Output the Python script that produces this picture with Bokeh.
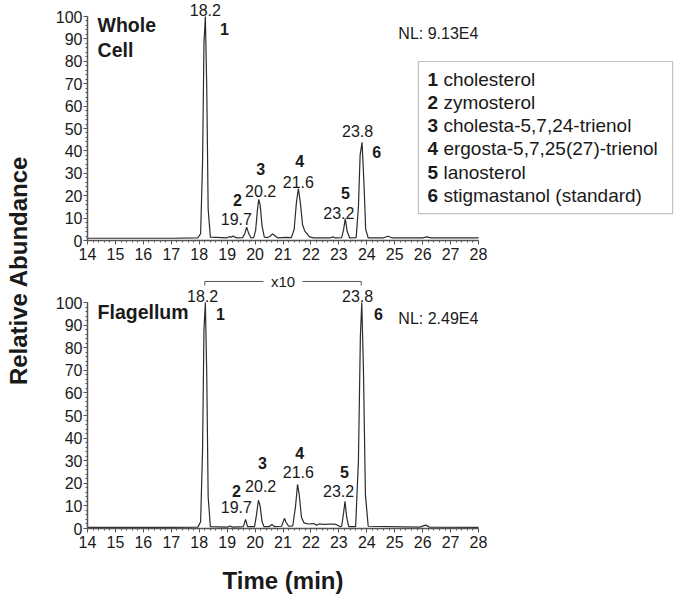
import math
from bokeh.plotting import figure
from bokeh.models import Range1d, FixedTicker, BoxAnnotation, LinearAxis, Label
from bokeh.embed import file_html
from bokeh.resources import INLINE
from bokeh.core.properties import value

# ---------------- data ----------------
# Whole cell chromatogram: retention time (min) / relative abundance (%)
WC_TIME = [14.0, 17.0, 17.95, 18.05, 18.12, 18.17, 18.22, 18.27, 18.32, 18.4, 19.0,
           19.1, 19.15, 19.22, 19.28, 19.35, 19.55, 19.63, 19.7, 19.77, 19.85,
           19.95, 20.02, 20.08, 20.13, 20.18, 20.25, 20.33, 20.45, 20.55, 20.62,
           20.7, 20.8, 21.1, 21.3, 21.4, 21.48, 21.55, 21.62, 21.7, 21.78, 21.85,
           21.95, 22.1, 22.7, 22.78, 22.85, 23.1, 23.17, 23.23, 23.3, 23.38, 23.62,
           23.7, 23.76, 23.83, 23.9, 23.96, 24.05, 24.6, 24.75, 24.9, 26.0, 26.15,
           26.3, 28.0]
WC_ABUND = [1.0, 1.0, 1.2, 3.0, 35.0, 88.0, 100.0, 68.0, 14.0, 1.5, 1.2,
            1.8, 1.4, 2.0, 1.5, 1.2, 1.3, 3.0, 6.0, 3.2, 1.2,
            1.3, 4.5, 13.0, 18.3, 16.0, 6.5, 1.5, 1.3, 2.0, 3.0,
            2.2, 1.2, 1.4, 1.3, 5.0, 17.0, 23.2, 17.0, 7.0, 4.2, 3.2,
            1.6, 1.2, 1.2, 1.6, 1.2, 1.3, 5.0, 9.8, 4.0, 1.2, 1.3,
            15.0, 38.0, 43.8, 25.0, 5.0, 1.2, 1.2, 1.9, 1.2, 1.2, 1.6,
            1.2, 1.2]

# Flagellum chromatogram
FL_TIME = [14.0, 17.0, 17.95, 18.05, 18.12, 18.17, 18.22, 18.27, 18.32, 18.4, 19.0,
           19.1, 19.2, 19.58, 19.66, 19.73, 19.98, 20.05, 20.12, 20.18, 20.25,
           20.32, 20.5, 20.6, 20.7, 20.95, 21.05, 21.1, 21.2, 21.35, 21.45,
           21.52, 21.58, 21.66, 21.75, 21.9, 22.1, 22.2, 22.3, 22.5, 22.7, 22.9,
           23.05, 23.1, 23.17, 23.22, 23.28, 23.35, 23.6, 23.7, 23.77, 23.82,
           23.88, 23.95, 24.05, 25.9, 26.1, 26.25, 28.0]
FL_ABUND = [0.5, 0.5, 0.6, 3.0, 35.0, 88.0, 100.0, 68.0, 14.0, 0.8, 0.6,
            1.1, 0.6, 0.8, 4.0, 0.8, 0.8, 6.0, 12.5, 10.0, 3.0,
            0.8, 0.8, 1.8, 0.8, 1.0, 4.5, 3.0, 1.0, 1.2, 10.0,
            19.5, 15.0, 5.0, 2.5, 2.0, 2.2, 1.5, 2.0, 1.8, 2.0, 1.8,
            0.8, 1.0, 7.0, 12.0, 5.0, 0.8, 0.8, 30.0, 85.0, 100.0,
            70.0, 15.0, 1.0, 0.6, 1.5, 0.6, 0.5]

PEAK_NUMBERS = ["1", "2", "3", "4", "5", "6"]
RT_LABELS = ["18.2", "19.7", "20.2", "21.6", "23.2", "23.8"]
COMPOUNDS = ["cholesterol", "zymosterol", "cholesta-5,7,24-trienol",
             "ergosta-5,7,25(27)-trienol", "lanosterol", "stigmastanol (standard)"]
NL_TOP = "NL: 9.13E4"
NL_BOTTOM = "NL: 2.49E4"
SCALE_LABEL = "x10"
SCALE_SPAN = [18.2, 23.8]
X_TICKS = list(range(14, 29))
Y_TICKS = list(range(0, 101, 10))

# ---------------- annotation placement (layout) ----------------
WC_RT_X = [18.22, 19.33, 20.2, 21.55, 23.0, 23.67]
WC_RT_Y = [102.7, 9.8, 22.3, 26.3, 12.5, 48.7]
WC_NUM_X = [18.9, 19.37, 20.2, 21.6, 23.24, 24.35]
WC_NUM_Y = [94.6, 17.9, 32.0, 35.7, 21.0, 39.7]
FL_RT_X = [18.12, 19.33, 20.2, 21.55, 22.99, 23.67]
FL_RT_Y = [103.0, 9.3, 19.0, 25.2, 16.8, 103.0]
FL_NUM_X = [18.76, 19.33, 20.26, 21.6, 23.2, 24.42]
FL_NUM_Y = [95.0, 16.8, 28.8, 33.6, 24.8, 95.0]

FONT_NAME = "Liberation Sans"
FONT = value(FONT_NAME)
TXT = "#1a1a1a"
AX = "#555555"
TRACE = "#2b2b2b"

# geometry: one canvas (frame = whole canvas), two stacked panels
W, H = 675, 600
ORIGIN_X = 87                     # px from canvas left to t = 14
PX_PER_MIN = 27.93
BOT_PX = 2.26                     # px per % in the lower panel
TOP_PX = 2.24                     # px per % in the upper panel
BOT_ZERO_UP = 72                  # px from canvas bottom to lower panel zero
TOP_ZERO_UP = 360                 # px from canvas bottom to upper panel zero

x0 = 14 - ORIGIN_X / PX_PER_MIN
p = figure(width=W, height=H, toolbar_location=None, output_backend="svg",
           x_range=Range1d(x0, x0 + W / PX_PER_MIN),
           y_range=Range1d(-BOT_ZERO_UP / BOT_PX, (H - BOT_ZERO_UP) / BOT_PX),
           x_axis_location=None, y_axis_location=None, min_border=0)
p.extra_y_ranges = {"top": Range1d(-TOP_ZERO_UP / TOP_PX, (H - TOP_ZERO_UP) / TOP_PX)}
p.xgrid.visible = False
p.ygrid.visible = False
p.outline_line_color = None

# axes for both panels, pinned at each panel origin
for rng in ("default", "top"):
    p.add_layout(LinearAxis(y_range_name=rng, fixed_location=14), "left")
    p.add_layout(LinearAxis(y_range_name=rng, fixed_location=0), "below")

for ax in p.xaxis:
    ax.ticker = FixedTicker(ticks=X_TICKS, minor_ticks=[14 + i * 0.2 for i in range(71)])
    ax.bounds = (14, 28)
    ax.major_label_standoff = 3
for ax in p.yaxis:
    ax.ticker = FixedTicker(ticks=Y_TICKS, minor_ticks=list(range(0, 101, 2)))
    ax.bounds = (0, 100)
    ax.major_label_standoff = 1
for ax in list(p.xaxis) + list(p.yaxis):
    ax.axis_line_color = AX
    ax.axis_line_width = 1.5
    ax.major_tick_line_color = AX
    ax.minor_tick_line_color = AX
    ax.major_tick_in = 0
    ax.minor_tick_in = 0
    ax.major_tick_out = 4
    ax.minor_tick_out = 2
    ax.major_label_text_font = FONT_NAME
    ax.major_label_text_font_size = "16px"
    ax.major_label_text_color = TXT


def add_text(x, y, text, size="16px", style="normal", align="center",
             baseline="middle", **kw):
    p.text(x=x, y=y, text=text, text_font=FONT, text_font_size=size,
           text_font_style=style, text_align=align, text_baseline=baseline,
           text_color=TXT, **kw)


# ---------------- upper panel: whole cell ----------------
p.line(WC_TIME, WC_ABUND, line_color=TRACE, line_width=1.2, y_range_name="top")
add_text(WC_RT_X, WC_RT_Y, RT_LABELS, y_range_name="top")
add_text(WC_NUM_X, WC_NUM_Y, PEAK_NUMBERS, style="bold", y_range_name="top")
add_text([14.36, 14.36], [96.0, 85.0], ["Whole", "Cell"], size="19.5px",
         style="bold", align="left", y_range_name="top")
add_text([25.13], [92.4], [NL_TOP], align="left", y_range_name="top")

# legend box
LEG_Y = [71.9 - i * 10.35 for i in range(6)]
p.add_layout(BoxAnnotation(left=25.85, right=34.95, top=79.9, bottom=12.0,
                           y_range_name="top", fill_alpha=0,
                           line_color="#333333", line_width=1.2))
add_text([26.17] * 6, LEG_Y, PEAK_NUMBERS, size="19px", style="bold",
         align="left", y_range_name="top")
add_text([26.17] * 6, LEG_Y, COMPOUNDS, size="19px", align="left",
         x_offset=16, y_range_name="top")

# ---------------- lower panel: flagellum ----------------
p.line(FL_TIME, FL_ABUND, line_color=TRACE, line_width=1.2)
add_text(FL_RT_X, FL_RT_Y, RT_LABELS)
add_text(FL_NUM_X, FL_NUM_Y, PEAK_NUMBERS, style="bold")
add_text([14.36], [95.6], ["Flagellum"], size="19.5px", style="bold", align="left")
add_text([25.13], [93.0], [NL_BOTTOM], align="left")

# x10 bracket spanning the two scaled peaks
mid = (SCALE_SPAN[0] + SCALE_SPAN[1]) / 2
gap = 0.7
p.multi_line(xs=[[SCALE_SPAN[0], SCALE_SPAN[0], mid - gap],
                 [mid + gap, SCALE_SPAN[1], SCALE_SPAN[1]]],
             ys=[[107.5, 109.3, 109.3], [109.3, 109.3, 107.5]],
             line_color=AX, line_width=1)
add_text([mid], [109.5], [SCALE_LABEL], size="15px")

# axis titles
p.add_layout(Label(x=21.0, y=-23.0, text="Time (min)", text_font=FONT_NAME,
                   text_font_size="24px", text_font_style="bold", text_color=TXT,
                   text_align="center", text_baseline="middle"))
p.add_layout(Label(x=14 - 69 / PX_PER_MIN, y=114.2, text="Relative Abundance",
                   text_font=FONT_NAME, text_font_size="24px",
                   text_font_style="bold", text_color=TXT, angle=math.pi / 2,
                   text_align="center", text_baseline="middle"))

open("out.html", "w").write(file_html(p, INLINE))
